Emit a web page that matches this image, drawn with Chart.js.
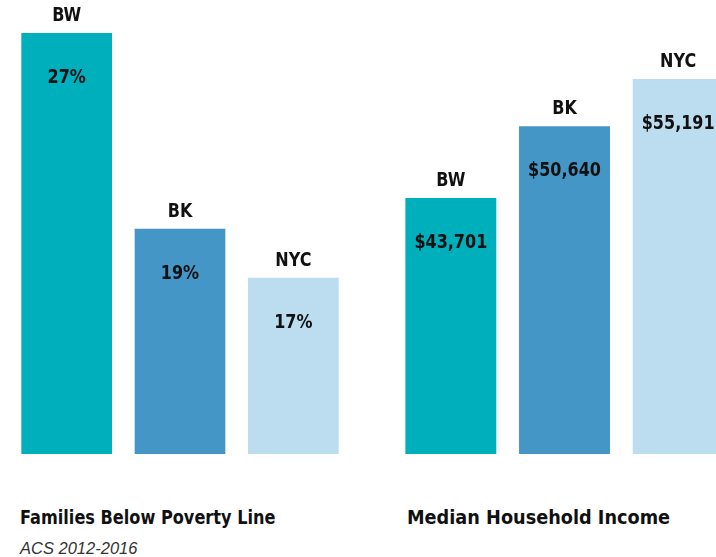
<!DOCTYPE html>
<html>
<head>
<meta charset="utf-8">
<script src="https://cdn.jsdelivr.net/npm/chart.js@4.4.0/dist/chart.umd.min.js"></script>
<style>
  html, body { margin: 0; padding: 0; background: #fff; width: 716px; height: 557px; overflow: hidden; }
  .wrap { position: absolute; top: 0; height: 454px; }
  .title { position: absolute; font-family: "DejaVu Sans", sans-serif; font-weight: bold; font-size: 20px; color: #111; white-space: nowrap; line-height: 1; transform-origin: left center; }
  .note { position: absolute; font-family: "Liberation Sans", Arial, sans-serif; font-style: italic; font-size: 16.5px; color: #333; white-space: nowrap; line-height: 1; }
</style>
</head>
<body>
<div class="wrap" style="left:10px; width:340px;"><canvas id="povChart" width="340" height="454"></canvas></div>
<div class="wrap" style="left:394px; width:341px;"><canvas id="incChart" width="341" height="454"></canvas></div>
<div class="title" style="left:20px; top:507px; transform:scaleX(0.807);">Families Below Poverty Line</div>
<div class="title" style="left:407px; top:507px; transform:scaleX(0.885);">Median Household Income</div>
<div class="note" style="left:20px; top:540px;">ACS 2012-2016</div>
<script>
// Datos
const areas = ["BW", "BK", "NYC"];
const povertyPct = [27, 19, 17];
const povertyLabels = ["27%", "19%", "17%"];
const medianIncome = [43701, 50640, 55191];
const incomeLabels = ["$43,701", "$50,640", "$55,191"];
const barColors = ["#00afbc", "#4496c6", "#bcdcf0"];

const labelFont = 'bold 20px "DejaVu Sans", sans-serif';

// Etiquetas encima y dentro de cada barra (texto un poco comprimido)
const barText = {
    id: "barText",
    afterDatasetsDraw(chart, args, opts) {
        const ctx = chart.ctx;
        const meta = chart.getDatasetMeta(0);
        ctx.font = labelFont;
        ctx.fillStyle = "#111";
        ctx.textAlign = "center";
        ctx.textBaseline = "middle";
        meta.data.forEach((bar, i) => {
            ctx.save();
            ctx.translate(bar.x, bar.y);
            ctx.scale(0.8, 1);
            ctx.fillText(chart.data.labels[i], 0, -17);
            ctx.fillText(opts.values[i], 0, 45);
            ctx.restore();
        });
    }
};

function makeChart(id, values, valueLabels, min, max) {
    return new Chart(document.getElementById(id), {
        type: "bar",
        data: {
            labels: areas,
            datasets: [{
                data: values,
                backgroundColor: barColors,
                barPercentage: 0.8,
                categoryPercentage: 1
            }]
        },
        options: {
            responsive: false,
            animation: false,
            layout: { padding: 0 },
            plugins: {
                legend: { display: false },
                tooltip: { enabled: false },
                barText: { values: valueLabels }
            },
            scales: {
                x: { display: false },
                y: { display: false, min: min, max: max }
            }
        },
        plugins: [barText]
    });
}

makeChart("povChart", povertyPct, povertyLabels, 9.8, 28.35);
makeChart("incChart", medianIncome, incomeLabels, 18991, 62816);
</script>
</body>
</html>
